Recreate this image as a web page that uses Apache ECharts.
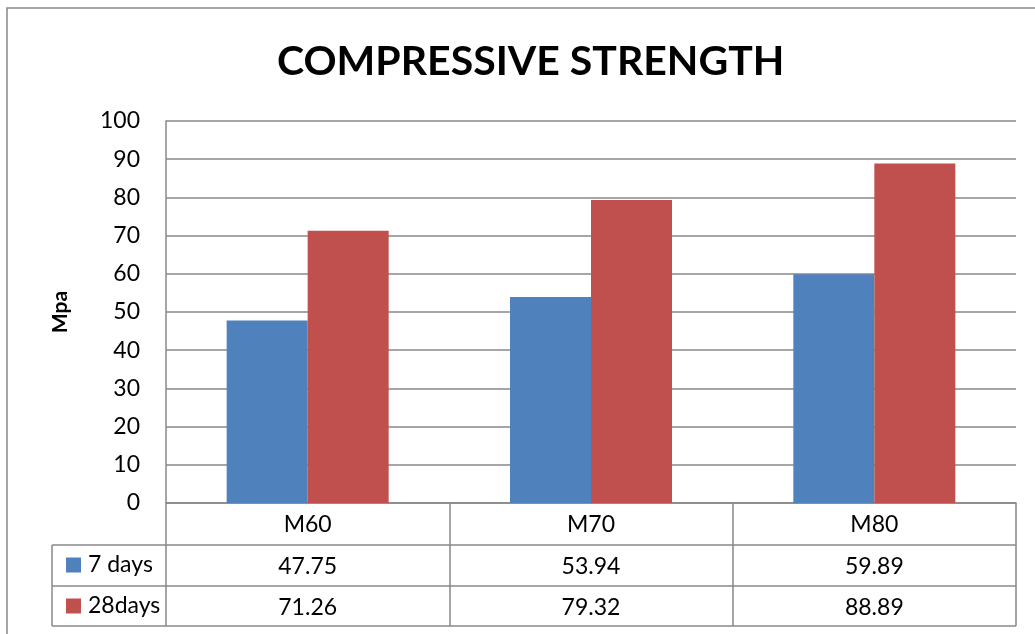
<!DOCTYPE html>
<html>
<head>
<meta charset="utf-8">
<script src="https://cdn.jsdelivr.net/npm/echarts@6/dist/echarts.min.js"></script>
<style>
  html, body { margin: 0; padding: 0; background: #fff; }
  #chart { width: 1035px; height: 634px; }
</style>
</head>
<body>
<div id="chart"></div>
<script>
// data
const categories = ['M60', 'M70', 'M80']
const sevenDays = [47.75, 53.94, 59.89]
const twentyEightDays = [71.26, 79.32, 88.89]
const seriesNames = ['7 days', '28days']
const yTicks = { min: 0, max: 100, interval: 10 }

const FONT = 'Lato, "Liberation Sans", sans-serif'
const GRID_COLOR = '#888'

// plot area / table layout
const plotLeft = 166
const plotRight = 1016
const plotTop = 121
const plotBottom = 503
const rowH = [42, 41, 40] // header row, 7 days row, 28days row
const tableLeft = 52

const myChart = echarts.init(document.getElementById('chart'))

const row1 = plotBottom + rowH[0]
const row2 = row1 + rowH[1]
const row3 = row2 + rowH[2]

const valueAxis = (values, offset) => ({
  type: 'category',
  position: 'bottom',
  data: categories,
  offset: offset,
  axisLine: { show: false },
  axisTick: { show: false },
  axisLabel: {
    margin: 9,
    fontSize: 23,
    lineHeight: 26,
    color: '#000',
    fontFamily: FONT,
    formatter: (v, i) => values[i].toFixed(2)
  }
})

const option = {
  animation: false,
  title: {
    text: 'COMPRESSIVE STRENGTH',
    left: 272,
    top: 36,
    textStyle: { fontSize: 41, fontWeight: 'bold', color: '#000', fontFamily: FONT }
  },
  legend: {
    data: seriesNames,
    orient: 'vertical',
    left: 61,
    top: row1 + 2,
    icon: 'rect',
    itemWidth: 15,
    itemHeight: 15,
    itemGap: 15,
    selectedMode: false,
    textStyle: { fontSize: 23, lineHeight: 26, color: '#000', fontFamily: FONT, padding: [0, 0, 0, 2] }
  },
  grid: {
    left: plotLeft,
    right: 1035 - plotRight,
    top: plotTop,
    bottom: 634 - plotBottom
  },
  xAxis: [
    {
      type: 'category',
      data: categories,
      position: 'bottom',
      axisLine: { show: true, lineStyle: { color: GRID_COLOR, width: 1.5 } },
      axisTick: { show: true, interval: 0, length: row3 - plotBottom, lineStyle: { color: GRID_COLOR, width: 1.5 } },
      axisLabel: { margin: 9, fontSize: 23, lineHeight: 26, color: '#000', fontFamily: FONT }
    },
    valueAxis(sevenDays, rowH[0]),
    valueAxis(twentyEightDays, rowH[0] + rowH[1])
  ],
  yAxis: {
    type: 'value',
    min: yTicks.min,
    max: yTicks.max,
    interval: yTicks.interval,
    name: 'Mpa',
    nameLocation: 'middle',
    nameGap: 95,
    nameTextStyle: { fontSize: 21, fontWeight: 'bold', color: '#000', fontFamily: FONT },
    axisLine: { show: true, lineStyle: { color: GRID_COLOR, width: 1.5 } },
    axisTick: { show: false },
    axisLabel: { margin: 26, fontSize: 23, color: '#000', fontFamily: FONT },
    splitLine: { lineStyle: { color: GRID_COLOR, width: 1.5 } }
  },
  series: [
    {
      name: seriesNames[0],
      type: 'bar',
      data: sevenDays,
      barWidth: 81,
      barGap: '0%',
      itemStyle: { color: '#4F81BD' }
    },
    {
      name: seriesNames[1],
      type: 'bar',
      data: twentyEightDays,
      barWidth: 81,
      itemStyle: { color: '#C0504D' }
    }
  ],
  graphic: [
    // outer chart border
    { type: 'rect', shape: { x: 7, y: 8, width: 1200, height: 800 }, style: { fill: 'none', stroke: GRID_COLOR, lineWidth: 1.5 }, silent: true },
    // data table horizontal lines
    { type: 'line', shape: { x1: tableLeft, y1: row1, x2: plotRight, y2: row1 }, style: { stroke: GRID_COLOR, lineWidth: 1.5 } },
    { type: 'line', shape: { x1: tableLeft, y1: row2, x2: plotRight, y2: row2 }, style: { stroke: GRID_COLOR, lineWidth: 1.5 } },
    { type: 'line', shape: { x1: tableLeft, y1: row3, x2: plotRight, y2: row3 }, style: { stroke: GRID_COLOR, lineWidth: 1.5 } },
    { type: 'line', shape: { x1: tableLeft, y1: row1, x2: tableLeft, y2: row3 }, style: { stroke: GRID_COLOR, lineWidth: 1.5 } }
  ]
}

myChart.setOption(option)

window.addEventListener('resize', () => {
  myChart.resize()
})
</script>
</body>
</html>
